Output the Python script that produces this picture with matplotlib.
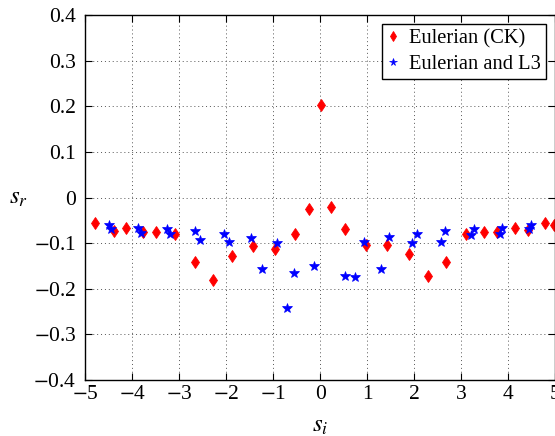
import matplotlib
matplotlib.use("Agg")
import matplotlib.pyplot as plt

plt.rcParams['font.family'] = ['Liberation Serif', 'DejaVu Serif']
plt.rcParams['mathtext.fontset'] = 'stix'

ck_x = [-4.79, -4.40, -4.14, -3.77, -3.49, -3.10, -2.67, -2.29, -1.88, -1.44,
        -0.97, -0.53, -0.23, 0.015, 0.23, 0.53, 0.98, 1.43, 1.89, 2.30,
        2.68, 3.10, 3.49, 3.77, 4.14, 4.41, 4.78, 4.97]
ck_y = [-0.057, -0.074, -0.067, -0.075, -0.075, -0.080, -0.141, -0.182, -0.129, -0.107,
        -0.113, -0.081, -0.026, 0.202, -0.020, -0.070, -0.105, -0.105, -0.125, -0.173,
        -0.142, -0.080, -0.076, -0.075, -0.067, -0.072, -0.057, -0.061]

l3_x = [-4.50, -4.45, -3.87, -3.81, -3.27, -3.20, -2.66, -2.56, -2.05, -1.94,
        -1.47, -1.25, -0.93, -0.70, -0.55, -0.13, 0.52, 0.74, 0.92, 1.29,
        1.47, 1.95, 2.05, 2.57, 2.65, 3.20, 3.26, 3.83, 3.87, 4.44, 4.49]
l3_y = [-0.061, -0.070, -0.067, -0.078, -0.069, -0.081, -0.074, -0.094, -0.080, -0.097,
        -0.089, -0.158, -0.100, -0.243, -0.165, -0.151, -0.173, -0.174, -0.097, -0.158,
        -0.087, -0.100, -0.080, -0.097, -0.074, -0.083, -0.070, -0.080, -0.066, -0.070, -0.061]

xticks = [-5, -4, -3, -2, -1, 0, 1, 2, 3, 4, 5]
yticks = [-0.4, -0.3, -0.2, -0.1, 0, 0.1, 0.2, 0.3, 0.4]
ytick_labels = ['$-$0.4', '$-$0.3', '$-$0.2', '$-$0.1', '0', '0.1', '0.2', '0.3', '0.4']
xtick_labels = ['$-$5', '$-$4', '$-$3', '$-$2', '$-$1', '0', '1', '2', '3', '4', '5']

fig = plt.figure(figsize=(5.55, 4.36), dpi=100)
ax = fig.add_axes([0.1537, 0.1291, 0.8468, 0.8358])

ax.plot(ck_x, ck_y, linestyle='none', marker='d', color='red', markersize=6,
        markeredgewidth=0.6, label='Eulerian (CK)')
ax.plot(l3_x, l3_y, linestyle='none', marker='*', color='blue', markersize=7,
        markeredgewidth=0.5, label='Eulerian and L3')

ax.set_xlim(-5, 5)
ax.set_ylim(-0.4, 0.4)
ax.set_xticks(xticks)
ax.set_xticklabels(xtick_labels)
ax.set_yticks(yticks)
ax.set_yticklabels(ytick_labels)
ax.tick_params(direction='in', top=True, right=True, labelsize=15.5, length=5, width=0.8)
ax.tick_params(axis='y', pad=6.5)
ax.tick_params(axis='x', pad=4)
ax.grid(True, linestyle=(0, (1, 3)), color='#555555', linewidth=0.7)
for s in ax.spines.values():
    s.set_linewidth(1.0)

ax.set_xlabel('$s_i$', fontsize=18, va='top')
ax.xaxis.set_label_coords(0.5, -0.098)
ax.set_ylabel('$s_r$', fontsize=18, rotation=0, va='center', ha='center')
ax.yaxis.set_label_coords(-0.143, 0.5)

leg = ax.legend(loc='upper right', bbox_to_anchor=(0.980, 0.976), numpoints=1,
                fontsize=14.8, fancybox=False, edgecolor='black', framealpha=1,
                handlelength=0.6, handletextpad=0.45, borderpad=0.25, labelspacing=0.3,
                markerscale=0.8, borderaxespad=0)
leg.get_frame().set_linewidth(1.0)

fig.savefig('out.png', dpi=100)
